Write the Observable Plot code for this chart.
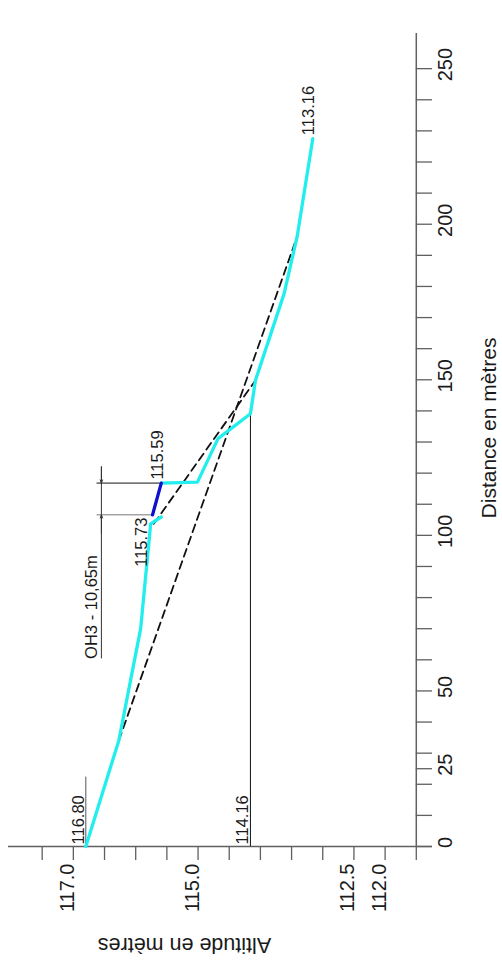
<!DOCTYPE html>
<html>
<head>
<meta charset="utf-8">
<script src="https://cdn.jsdelivr.net/npm/d3@7"></script>
<script src="https://cdn.jsdelivr.net/npm/@observablehq/plot@0.6"></script>
<style>
  html, body { margin: 0; padding: 0; background: #ffffff; }
  svg { display: block; }
</style>
</head>
<body>
<div id="chart"></div>
<script>
// ---- Data (distance in metres, altitude in metres) ----
const profileA_dist = [0, 34.1, 70.1, 103.7, 105.9];
const profileA_alt  = [116.80, 116.27, 115.92, 115.76, 115.59];

const ouvrage_dist = [106.6, 116.8];
const ouvrage_alt  = [115.73, 115.59];

const profileB_dist = [116.8, 117.1, 131.1, 139.1, 149.8, 177.7, 196.1, 227.5];
const profileB_alt  = [115.59, 115.01, 114.68, 114.16, 114.08, 113.62, 113.41, 113.16];

const dashA_dist = [34.1, 196.1];
const dashA_alt  = [116.27, 113.41];
const dashB_dist = [103.7, 149.8];
const dashB_alt  = [115.71, 114.08];

const refLevel = 114.16;      const refEnd = 139.1;
const startLevel = 116.80;    const startLineEnd = 22.3;

const dimLevel = 116.55;      // level of the "OH3" dimension line
const dimStart = 60.3;        const dimEnd = 122;
const dimExtTop = 116.62;
const dimMarks_dist = [106.6, 116.8];
const dimMarks_alt  = [115.73, 115.59];
const dimLabel = "OH3 - 10,65m";

const distTicks  = [0, 10, 20, 25, 30, 40, 50, 60, 70, 80, 90, 100, 110, 120, 130, 140, 150, 160, 170, 180, 190, 200, 210, 220, 230, 240, 250];
const distLabels = [0, 25, 50, 100, 150, 200, 250];
const altTicks   = [111.5, 112.0, 112.5, 113.0, 113.5, 114.0, 114.5, 115.0, 115.5, 116.0, 116.5, 117.0, 117.5];
const altLabels  = [117.0, 115.0, 112.5, 112.0];

const axisAlt = 111.5;
const altDomain = [118.04, 111.24];
const distDomain = [0, 261.3];

const xTitle = "Distance en mètres";
const yTitle = "Altitude en mètres";

// ---- Build rows ----
const rows = (ds, as) => ds.map((d, i) => ({d, a: as[i]}));
const profileA = rows(profileA_dist, profileA_alt);
const profileB = rows(profileB_dist, profileB_alt);
const ouvrage = rows(ouvrage_dist, ouvrage_alt);
const dashA = rows(dashA_dist, dashA_alt);
const dashB = rows(dashB_dist, dashB_alt);
const dimExt = rows(dimMarks_dist, dimMarks_alt);

const cyan = "#22EEEE";
const blue = "#1010CC";
const axisColor = "#606060";
const txt = "#1a1a1a";

const labelsRight = [
  {d: profileB_dist[profileB_dist.length - 1], a: profileB_alt[profileB_alt.length - 1], t: "113.16"},
  {d: profileB_dist[0], a: profileB_alt[0], t: "115.59"}
];

const plot = Plot.plot({
  width: 502,
  height: 967,
  marginLeft: 8,
  marginRight: 70,
  marginTop: 33,
  marginBottom: 121,
  x: {domain: altDomain, axis: null},
  y: {domain: distDomain, axis: null},
  style: {fontFamily: "'Liberation Sans', Arial, sans-serif", background: "#ffffff", color: txt},
  marks: [
    // axes
    Plot.ruleY([0], {y: d => d, x1: altDomain[0], x2: altDomain[1], stroke: axisColor, strokeWidth: 1.5}),
    Plot.ruleX([axisAlt], {x: d => d, y1: 0, y2: distDomain[1], stroke: axisColor, strokeWidth: 1.5}),
    Plot.ruleY(distTicks, {y: d => d, x1: axisAlt, x2: altDomain[1], stroke: axisColor, strokeWidth: 1.3}),
    Plot.ruleX(altTicks, {x: d => d, y1: 0, y2: -4.5, stroke: axisColor, strokeWidth: 1.3}),
    Plot.text(distLabels, {x: () => axisAlt, y: d => d, text: d => String(d), rotate: -90,
      textAnchor: "middle", lineAnchor: "bottom", dx: 35.5, dy: -4, fontSize: 20, fill: txt}),
    Plot.text(altLabels, {x: d => d, y: () => 0, text: d => d.toFixed(1), rotate: -90,
      textAnchor: "end", lineAnchor: "bottom", dx: 0.5, dy: 17, fontSize: 20, fill: txt}),
    Plot.text([yTitle], {frameAnchor: "bottom-left", text: d => d, rotate: 180,
      textAnchor: "middle", lineAnchor: "bottom", dx: 176, dy: 91, fontSize: 21.5, fill: txt}),
    Plot.text([xTitle], {frameAnchor: "right", text: d => d, rotate: -90,
      textAnchor: "middle", lineAnchor: "bottom", dx: 63, dy: -12, fontSize: 21, fill: txt}),

    // reference lines
    Plot.ruleX([refLevel], {x: d => d, y1: 0, y2: refEnd, stroke: "#111", strokeWidth: 1}),
    Plot.ruleX([startLevel], {x: d => d, y1: 0, y2: startLineEnd, stroke: "#555", strokeWidth: 1}),

    // dimension annotation
    Plot.ruleX([dimLevel], {x: d => d, y1: dimStart, y2: dimEnd, stroke: "#333", strokeWidth: 1}),
    Plot.ruleY(dimExt, {y: "d", x1: () => dimExtTop, x2: "a", stroke: (r, i) => i === 0 ? "#777" : "#111", strokeWidth: 1}),
    Plot.arrow([{d1: dimEnd, d2: dimMarks_dist[1]}, {d1: dimMarks_dist[0] - 6, d2: dimMarks_dist[0]}],
      {x1: () => dimLevel, x2: () => dimLevel, y1: "d1", y2: "d2", stroke: "#333", strokeWidth: 1, headLength: 5, headAngle: 40}),
    Plot.text([dimLabel], {x: () => dimLevel, y: () => dimStart, text: d => d, rotate: -90,
      textAnchor: "start", lineAnchor: "bottom", dx: -4, dy: 0, fontSize: 16.5, fill: txt}),

    // dashed lines
    Plot.line(dashA, {x: "a", y: "d", stroke: "#111", strokeWidth: 1.8, strokeDasharray: "8,5"}),
    Plot.line(dashB, {x: "a", y: "d", stroke: "#111", strokeWidth: 1.8, strokeDasharray: "8,5"}),

    // profile
    Plot.line(profileA, {x: "a", y: "d", stroke: cyan, strokeWidth: 3.3}),
    Plot.line(profileB, {x: "a", y: "d", stroke: cyan, strokeWidth: 3.3}),
    Plot.line(ouvrage, {x: "a", y: "d", stroke: blue, strokeWidth: 3.3}),

    // value labels
    Plot.text([{d: profileA_dist[0], a: profileA_alt[0]}], {x: "a", y: "d", text: r => r.a.toFixed(2), rotate: -90,
      textAnchor: "start", lineAnchor: "bottom", dx: -2, dy: -2, fontSize: 16.5, fill: txt}),
    Plot.text([refLevel], {x: d => d, y: () => 0, text: d => d.toFixed(2), rotate: -90,
      textAnchor: "start", lineAnchor: "bottom", dx: -2, dy: -2, fontSize: 16.5, fill: txt}),
    Plot.text(labelsRight, {x: "a", y: "d", text: "t", rotate: -90, textAnchor: "start", lineAnchor: "bottom",
      fontSize: 16.5, fill: txt, dx: 1.7, dy: -3.5}),
    Plot.text([{d: ouvrage_dist[0], a: ouvrage_alt[0]}], {x: "a", y: "d", text: r => r.a.toFixed(2), rotate: -90,
      textAnchor: "end", lineAnchor: "bottom", dx: -5.3, dy: 2.7, fontSize: 16.5, fill: txt})
  ]
});
document.getElementById("chart").appendChild(plot);
</script>
</body>
</html>
